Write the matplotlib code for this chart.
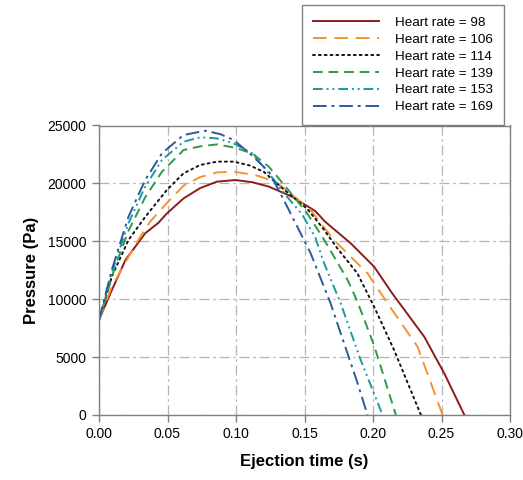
import matplotlib
matplotlib.use("Agg")
import matplotlib.pyplot as plt

plt.rcParams['font.family'] = ['Liberation Sans', 'DejaVu Sans']

labels = ["Heart rate = 98", "Heart rate = 106", "Heart rate = 114",
          "Heart rate = 139", "Heart rate = 153", "Heart rate = 169"]

t98 = [0, 0.0083, 0.0193, 0.0337, 0.0434, 0.0495, 0.0617, 0.0739, 0.0861, 0.0996, 0.112, 0.124, 0.141, 0.158, 0.165, 0.1837, 0.2008, 0.214, 0.2374, 0.252, 0.2667]
p98 = [8200, 10500, 13390, 15690, 16600, 17400, 18700, 19600, 20150, 20290, 20100, 19720, 18850, 17600, 16700, 14830, 12810, 10510, 6760, 3600, 0]

t106 = [0, 0.0093, 0.027, 0.0373, 0.0495, 0.0617, 0.0739, 0.0861, 0.0983, 0.114, 0.1288, 0.141, 0.1545, 0.1715, 0.196, 0.2106, 0.2325, 0.2508]
p106 = [8200, 11080, 14800, 16700, 18300, 19800, 20550, 20950, 21010, 20720, 20150, 19000, 17700, 15110, 12230, 9650, 5900, 0]

t114 = [0, 0.0093, 0.0215, 0.0337, 0.0495, 0.0617, 0.0739, 0.0861, 0.0983, 0.110, 0.1203, 0.1325, 0.141, 0.152, 0.163, 0.174, 0.1886, 0.2008, 0.2154, 0.235]
p114 = [8200, 11940, 15110, 17100, 19430, 20870, 21590, 21880, 21880, 21550, 21000, 19710, 18900, 17800, 16200, 14390, 12230, 9350, 5610, 0]

t139 = [0, 0.0117, 0.0215, 0.0337, 0.0459, 0.0617, 0.0739, 0.0861, 0.0983, 0.1118, 0.124, 0.1362, 0.152, 0.164, 0.1813, 0.1886, 0.2008, 0.2167]
p139 = [8200, 12810, 15900, 18800, 21000, 22880, 23200, 23370, 23100, 22600, 21440, 19720, 17400, 15200, 11700, 9800, 6000, 0]

t153 = [0, 0.0093, 0.0215, 0.0337, 0.0459, 0.0617, 0.0739, 0.0861, 0.0983, 0.1118, 0.124, 0.1362, 0.1484, 0.158, 0.164, 0.1764, 0.191, 0.207]
p153 = [8200, 12300, 16550, 19720, 22020, 23600, 23980, 23890, 23460, 22600, 20870, 19000, 17300, 15300, 13200, 9650, 4750, 0]

t169 = [0, 0.0093, 0.0215, 0.0337, 0.0459, 0.0617, 0.0776, 0.0886, 0.0983, 0.1118, 0.124, 0.1337, 0.1435, 0.1545, 0.169, 0.1886, 0.196]
p169 = [8200, 12520, 17120, 20290, 22590, 24180, 24550, 24250, 23750, 22400, 21000, 18850, 16550, 13960, 9650, 2800, 0]

series = [(t98, p98), (t106, p106), (t114, p114), (t139, p139), (t153, p153), (t169, p169)]
colors = ["#8c1c1c", "#f7922e", "#111111", "#2e9a48", "#1b9a9c", "#2b5a9c"]
styles = ["-", (0, (7, 4)), (0, (1, 2)), (0, (5, 3)), (0, (5, 2, 1, 2, 1, 2)), (0, (7, 2.5, 1.5, 2.5))]

fig = plt.figure(figsize=(5.23, 4.8), dpi=100)
ax = fig.add_axes([99/523, 1-415/480, (510-99)/523, (415-125.5)/480])

handles = []
for (t, p), c, ls, lab in zip(series, colors, styles, labels):
    ln, = ax.plot(t, p, color=c, linestyle=ls, lw=1.4, label=lab,
                  solid_joinstyle='round', dash_joinstyle='round',
                  dash_capstyle='round' if ls == (0, (1, 2)) else 'butt')
    handles.append(ln)

ax.set_xlim(0, 0.30)
ax.set_ylim(0, 25000)
ax.set_xticks([0, 0.05, 0.10, 0.15, 0.20, 0.25, 0.30])
ax.set_xticklabels(["0.00", "0.05", "0.10", "0.15", "0.20", "0.25", "0.30"])
ax.set_yticks([0, 5000, 10000, 15000, 20000, 25000])
ax.tick_params(direction='out', length=5, width=1, color='#808080', labelsize=10, pad=4)
ax.grid(True, color='#b4b4bc', linestyle=(0, (8, 3, 2, 3)), lw=0.9)
for s in ax.spines.values():
    s.set_color('#808080')
    s.set_linewidth(1.0)
ax.set_xlabel("Ejection time (s)", fontsize=12, fontweight='bold', labelpad=9)
ax.set_ylabel("Pressure (Pa)", fontsize=12, fontweight='bold', labelpad=6)

leg = fig.legend(handles=handles, loc='upper left', bbox_to_anchor=(302/523, 1-5/480),
                 fontsize=9.7, handlelength=4.9, handletextpad=1.15, labelspacing=0.33,
                 frameon=True, fancybox=False, borderpad=0.85, borderaxespad=0)
leg.get_frame().set_edgecolor('#606060')
leg.get_frame().set_linewidth(1.0)

fig.savefig("out.png", dpi=100)
